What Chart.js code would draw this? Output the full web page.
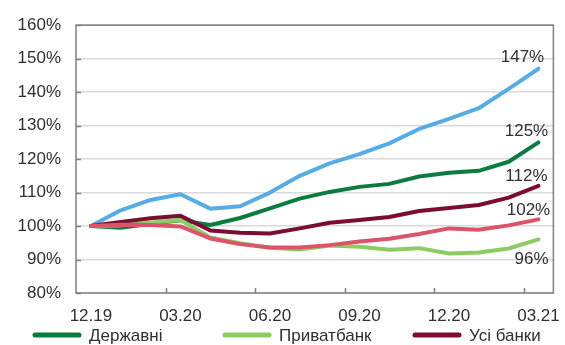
<!DOCTYPE html>
<html lang="uk">
<head>
<meta charset="utf-8">
<script src="https://cdn.jsdelivr.net/npm/chart.js@4.4.1/dist/chart.umd.min.js"></script>
<style>
  html, body { margin: 0; padding: 0; background: #ffffff; }
  #wrap { width: 565px; height: 345px; }
</style>
</head>
<body>
<div id="wrap"><canvas id="chart" width="565" height="345"></canvas></div>
<script>
// Months, end of period
const categories = ['12.19', '01.20', '02.20', '03.20', '04.20', '05.20', '06.20', '07.20',
                    '08.20', '09.20', '10.20', '11.20', '12.20', '01.21', '02.21', '03.21'];
// Axis labels shown every quarter
const tickLabels = ['12.19', '03.20', '06.20', '09.20', '12.20', '03.21'];
const yTicks = [80, 90, 100, 110, 120, 130, 140, 150, 160];

// Index, 12.19 = 100%
const stateBanks   = [100, 99.5, 100.7, 101.7, 100.3, 102.4, 105.3, 108.2, 110.2, 111.7, 112.6, 114.8, 115.9, 116.5, 119.2, 125];
const privatBank   = [100, 100.2, 101.0, 101.8, 96.6, 94.9, 93.5, 93.0, 94.2, 93.8, 92.9, 93.4, 91.8, 92.1, 93.3, 96];
const allBanks     = [100, 101.2, 102.3, 103.1, 98.7, 98.0, 97.8, 99.3, 101.0, 101.8, 102.7, 104.5, 105.4, 106.3, 108.5, 112];
const foreignBanks = [100, 104.7, 107.8, 109.5, 105.2, 105.9, 110, 115, 118.7, 121.5, 124.7, 129, 132, 135.2, 141, 147];
const privateBanks = [100, 100.4, 100.3, 99.9, 96.3, 94.6, 93.6, 93.6, 94.3, 95.4, 96.2, 97.6, 99.3, 98.9, 100.2, 102];

const FONT = '"Liberation Sans", Arial, sans-serif';
const TEXT = '#303030';

function series(label, data, color, order, inLegend, labelDx, labelDy) {
  return {
    label, data, order,
    borderColor: color, backgroundColor: color,
    borderWidth: 4, pointRadius: 0, tension: 0, fill: false,
    borderJoinStyle: 'round', borderCapStyle: 'round',
    inLegend, labelDx, labelDy
  };
}

const datasets = [
  series('Державні',   stateBanks,   '#0B7B3E', 3, true,  -12, -11),
  series('Приватбанк', privatBank,   '#8DCB63', 2, true,  -7,  20),
  series('Усі банки',  allBanks,     '#7B0C33', 1, true,  -12, -10),
  series('Іноземні',   foreignBanks, '#58ACE6', 4, false, -16, -11),
  series('Приватні',   privateBanks, '#DC5469', 0, false, -10, -9)
];

// Frame, inward tick marks, end-of-line values and the legend row
const decorations = {
  id: 'decorations',
  afterDatasetsDraw(chart) {
    const { ctx, chartArea: a, scales } = chart;
    const x = scales.x, y = scales.y;
    ctx.save();

    ctx.strokeStyle = '#808080';
    ctx.lineWidth = 1.5;
    ctx.strokeRect(a.left, a.top, a.right - a.left, a.bottom - a.top);

    ctx.beginPath();
    yTicks.forEach(v => {
      const py = Math.round(y.getPixelForValue(v)) + 0.5;
      ctx.moveTo(a.left, py);
      ctx.lineTo(a.left + 5, py);
    });
    const half = (x.getPixelForValue(1) - x.getPixelForValue(0)) / 2;
    categories.forEach((c, i) => {
      if (i === 0 || !tickLabels.includes(c)) return;
      const px = Math.round(x.getPixelForValue(i) - half) + 0.5;
      ctx.moveTo(px, a.bottom);
      ctx.lineTo(px, a.bottom - 5);
    });
    ctx.stroke();

    ctx.font = '17px ' + FONT;
    ctx.fillStyle = TEXT;
    ctx.textAlign = 'center';
    ctx.textBaseline = 'middle';
    chart.data.datasets.forEach((ds, di) => {
      const meta = chart.getDatasetMeta(di);
      const last = meta.data[meta.data.length - 1];
      const v = ds.data[ds.data.length - 1];
      ctx.fillText(Math.round(v) + '%', last.x + ds.labelDx, last.y + ds.labelDy);
    });

    // legend: equal-width columns
    const ly = 335;
    let lx = 33;
    ctx.textAlign = 'left';
    ctx.lineWidth = 5;
    ctx.lineCap = 'round';
    chart.data.datasets.filter(ds => ds.inLegend).forEach(ds => {
      ctx.strokeStyle = ds.borderColor;
      ctx.beginPath();
      ctx.moveTo(lx + 2, ly);
      ctx.lineTo(lx + 46, ly);
      ctx.stroke();
      ctx.fillText(ds.label, lx + 56, ly + 1);
      lx += 190;
    });
    ctx.restore();
  }
};

new Chart(document.getElementById('chart'), {
  type: 'line',
  data: { labels: categories, datasets },
  options: {
    responsive: false,
    devicePixelRatio: 1,
    animation: false,
    layout: { padding: { top: 18, right: 8, left: 0, bottom: 0 } },
    plugins: { legend: { display: false }, tooltip: { enabled: false } },
    scales: {
      x: {
        type: 'category',
        offset: true,
        grid: { display: false },
        border: { display: false },
        ticks: {
          autoSkip: false, maxRotation: 0, padding: 5,
          color: TEXT, font: { family: FONT, size: 17 },
          callback(value) {
            const c = categories[value];
            return tickLabels.includes(c) ? c : null;
          }
        },
        afterFit(scale) { scale.height = 52; }
      },
      y: {
        min: 80, max: 160,
        grid: { color: '#d9d9d9', lineWidth: 1.5, drawTicks: false },
        border: { display: false },
        ticks: {
          stepSize: 10, padding: 15,
          color: TEXT, font: { family: FONT, size: 17 },
          callback: v => v + '%'
        },
        afterFit(scale) { scale.width = 76; }
      }
    }
  },
  plugins: [decorations]
});
</script>
</body>
</html>
